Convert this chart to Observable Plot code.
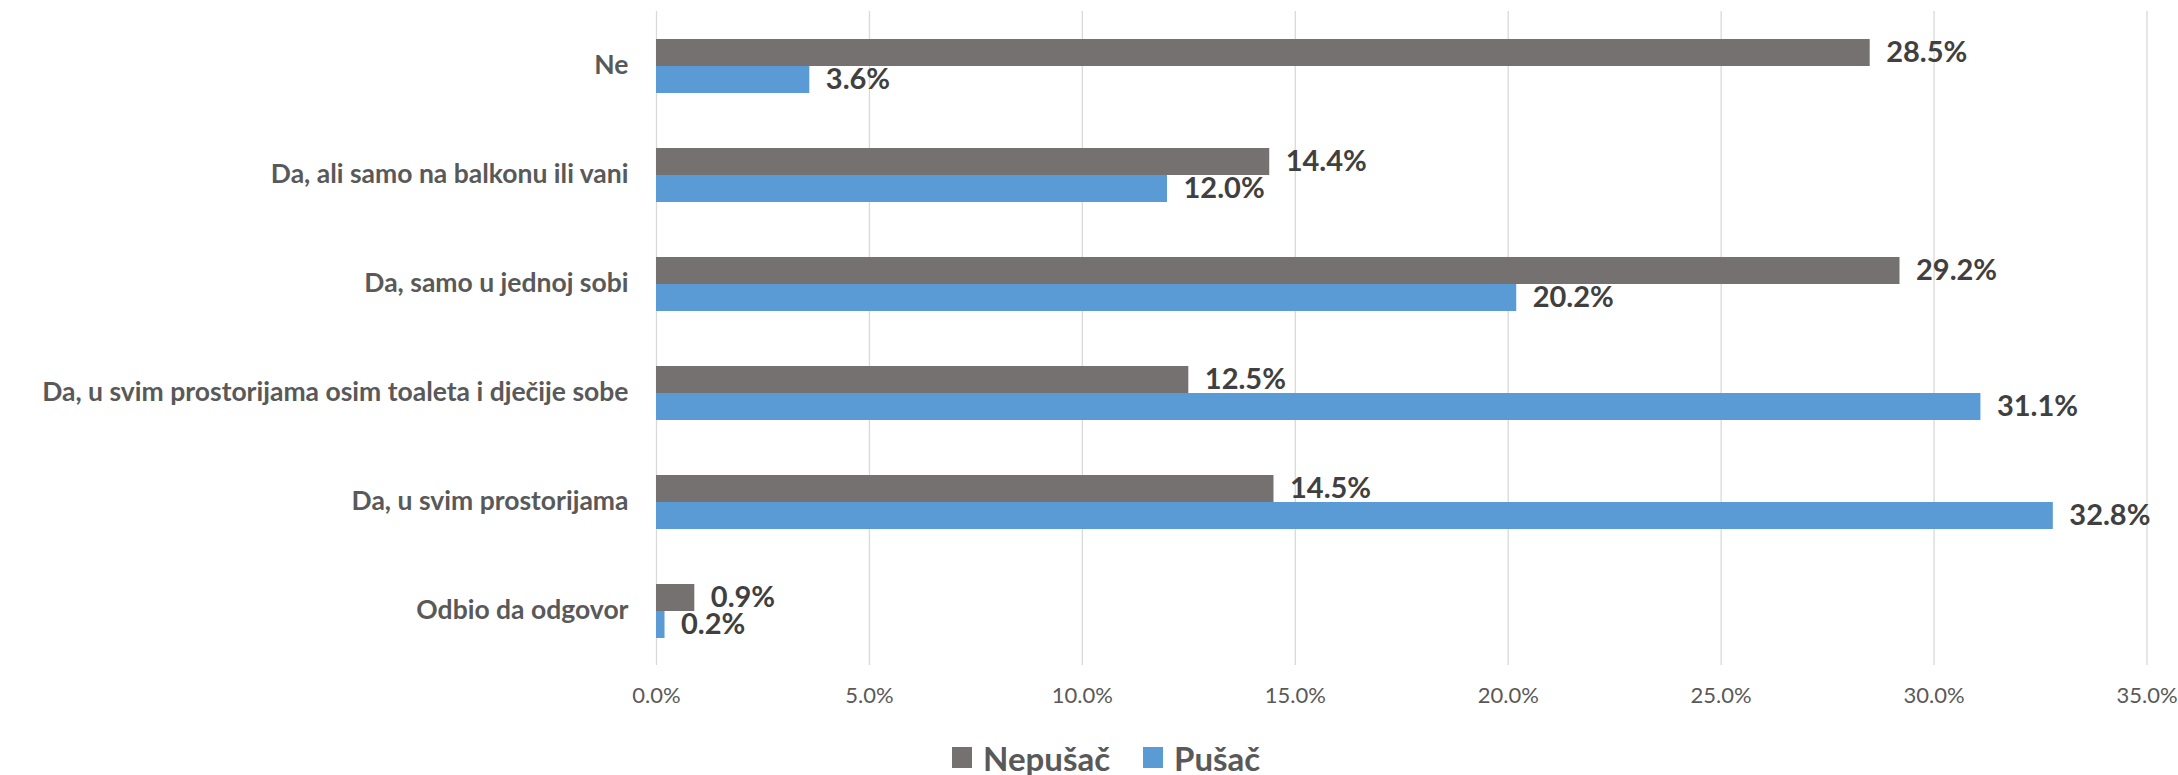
<!DOCTYPE html>
<html>
<head>
<meta charset="utf-8">
<script src="https://cdn.jsdelivr.net/npm/d3@7"></script>
<script src="https://cdn.jsdelivr.net/npm/@observablehq/plot@0.6"></script>
<style>
  body { margin: 0; background: #fff; font-family: Lato, "Open Sans", sans-serif; }
  #chart svg g[aria-label^="fy-axis"] text { font-weight: bold; font-size: 26.5px; fill: #595959; }
  #legend { height: 55px; box-sizing: border-box; padding-top: 20px; padding-left: 952px; display: flex; align-items: center; font-weight: bold; font-size: 33px; color: #595959; line-height: 36px; }
  #legend .item { display: flex; align-items: center; margin-right: 33px; }
  #legend .sw { width: 20px; height: 21px; margin-right: 11px; }
</style>
</head>
<body>
<div id="chart"></div>
<div id="legend"></div>
<script>
const categories = [
  "Ne",
  "Da, ali samo na balkonu ili vani",
  "Da, samo u jednoj sobi",
  "Da, u svim prostorijama osim toaleta i dječije sobe",
  "Da, u svim prostorijama",
  "Odbio da odgovor"
];
const series = ["Nepušač", "Pušač"];
const nepusac = [28.5, 14.4, 29.2, 12.5, 14.5, 0.9];
const pusac = [3.6, 12.0, 20.2, 31.1, 32.8, 0.2];
const colors = ["#767171", "#5B9BD5"];
const xTicks = [0, 5, 10, 15, 20, 25, 30, 35];

const rows = [];
categories.forEach((c, i) => {
  rows.push({cat: c, series: series[0], value: nepusac[i]});
  rows.push({cat: c, series: series[1], value: pusac[i]});
});

const chart = Plot.plot({
  width: 2178,
  height: 720,
  marginTop: 10,
  marginBottom: 55,
  marginLeft: 656,
  marginRight: 31.5,
  style: {fontFamily: "Lato, 'Open Sans', sans-serif", fontSize: "22px", color: "#595959", background: "#fff"},
  facet: {data: rows, y: "cat"},
  fy: {domain: categories, padding: 0, label: null, axis: "left", tickSize: 0, tickPadding: 28},
  y: {domain: series, paddingInner: 0, paddingOuter: 0.95, axis: null},
  x: {domain: [0, 35], ticks: xTicks, tickSize: 0, tickPadding: 22, label: null, tickFormat: d => d.toFixed(1) + "%"},
  color: {domain: series, range: colors},
  marks: [
    Plot.ruleX(xTicks, {stroke: "#D9D9D9", strokeWidth: 1.3}),
    Plot.barX(rows, {x: "value", y: "series", fill: "series"}),
    Plot.text(rows, {x: "value", y: "series", text: d => d.value.toFixed(1) + "%", textAnchor: "start", dx: 16, fontSize: 29, fontWeight: "bold", fill: "#404040"})
  ]
});
document.getElementById("chart").appendChild(chart);

const legend = d3.select("#legend");
series.forEach((s, i) => {
  const it = legend.append("div").attr("class", "item");
  it.append("div").attr("class", "sw").style("background", colors[i]);
  it.append("span").text(s);
});
</script>
</body>
</html>
